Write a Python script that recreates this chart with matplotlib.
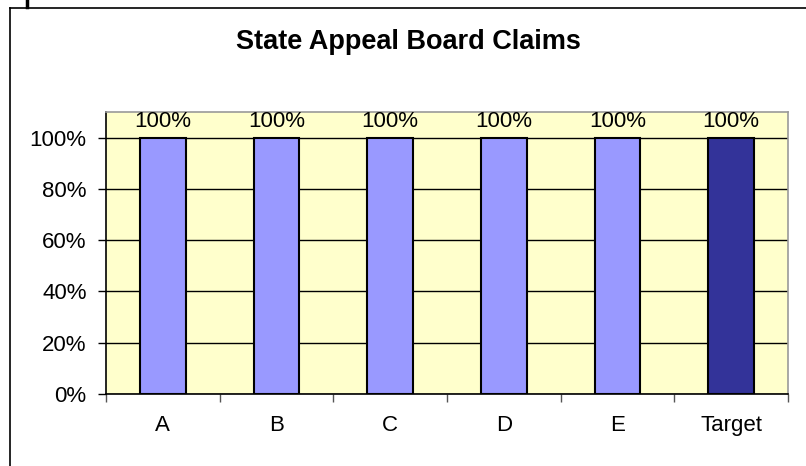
import matplotlib
matplotlib.use("Agg")
import matplotlib.pyplot as plt
from matplotlib.lines import Line2D
from matplotlib.ticker import FuncFormatter, FixedLocator

categories = ["A", "B", "C", "D", "E", "Target"]
values = [1.00, 1.00, 1.00, 1.00, 1.00, 1.00]
bar_colors = ["#9999FF", "#9999FF", "#9999FF", "#9999FF", "#9999FF", "#333399"]
yticks = [0.0, 0.2, 0.4, 0.6, 0.8, 1.0]

plt.rcParams['font.family'] = ['Liberation Sans', 'DejaVu Sans']

W, H = 806, 466
fig = plt.figure(figsize=(W / 100, H / 100), dpi=100)
fig.patch.set_facecolor("white")

ax = fig.add_axes([106 / W, 1 - 394 / H, (788 - 106) / W, (394 - 112) / H])
ax.set_facecolor("#FFFFCC")

x = list(range(len(categories)))
ax.set_axisbelow(True)
ax.yaxis.grid(True, color="black", linewidth=1.0)
bars = ax.bar(x, values, width=0.4, color=bar_colors, edgecolor="black", linewidth=1.5, zorder=3)

for xi, v in zip(x, values):
    ax.text(xi, v + 0.022, f"{v*100:.0f}%", ha="center", va="bottom", fontsize=16, zorder=4)

ax.set_xlim(-0.5, len(categories) - 0.5)
ax.set_ylim(0, 1.1)
ax.yaxis.set_major_locator(FixedLocator(yticks))
ax.yaxis.set_major_formatter(FuncFormatter(lambda v, p: f"{v*100:.0f}%"))
ax.tick_params(axis="y", direction="out", length=6, width=1, labelsize=16, pad=8)

ax.set_xticks(x)
ax.set_xticklabels(categories)
ax.tick_params(axis="x", which="major", length=0, labelsize=16, pad=15)
ax.set_xticks([i - 0.5 for i in range(len(categories) + 1)], minor=True)
ax.tick_params(axis="x", which="minor", direction="out", length=6, width=1, color="#555555")

for s in ["left", "bottom"]:
    ax.spines[s].set_color("black")
    ax.spines[s].set_linewidth(1.2)
for s in ["top", "right"]:
    ax.spines[s].set_color("#999999")
    ax.spines[s].set_linewidth(1.2)

fig.text(408 / W, 1 - 42 / H, "State Appeal Board Claims", ha="center", va="center",
         fontsize=19.5, fontweight="bold")

# outer chart frame
fig.add_artist(Line2D([9.5 / W, 9.5 / W], [0, 1 - 8 / H], transform=fig.transFigure, color="black", linewidth=1.2))
fig.add_artist(Line2D([9.5 / W, 1], [1 - 8 / H, 1 - 8 / H], transform=fig.transFigure, color="black", linewidth=1.2))
fig.add_artist(Line2D([26.5 / W, 26.5 / W], [1 - 7 / H, 1], transform=fig.transFigure, color="black", linewidth=2.5))

fig.savefig("out.png", dpi=100)
